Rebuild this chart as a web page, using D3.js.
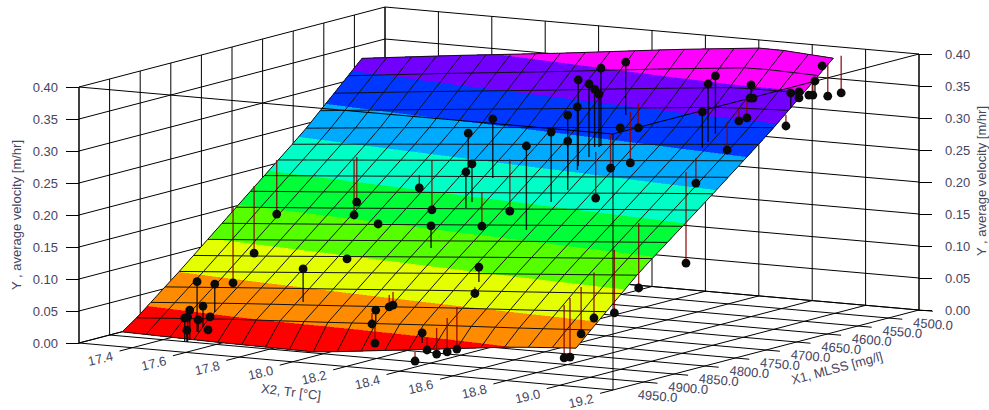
<!DOCTYPE html>
<html>
<head>
<meta charset="utf-8">
<script src="https://cdn.jsdelivr.net/npm/d3@7"></script>
<style>
    html, body { margin: 0; padding: 0; background: #fff; }
    text { font-family: "Liberation Sans", Arial, sans-serif; font-size: 13px; fill: #45455f; }
</style>
</head>
<body>
<div id="chart"></div>
<script>
const tickT = [17.4, 17.6, 17.8, 18.0, 18.2, 18.4, 18.6, 18.8, 19.0, 19.2];
const tickM = [4500, 4550, 4600, 4650, 4700, 4750, 4800, 4850, 4900, 4950];
const tickY = [0, 0.05, 0.10, 0.15, 0.20, 0.25, 0.30, 0.35, 0.40];
const wallT = [17.2].concat(tickT);
const wallM = tickM.concat([5000]);

// colour bands of the fitted surface
const bandLevels = [-1, 0.04, 0.08, 0.12, 0.16, 0.20, 0.24, 0.28, 0.32, 0.36, 1];
const bandColors = ["#ff0000", "#ff8c00", "#e3ff00", "#55ff00", "#00ff38", "#00ffc6", "#00aaff", "#0038ff", "#7100ff", "#ff00ff"];

// fitted surface, read at a few rows and columns
const surfM = [4960, 4944, 4860, 4758, 4656, 4555];
const surfTLow = [17.27, 17.27, 17.265, 17.26, 17.25, 17.24];
const surfTHigh = [18.97, 18.97, 18.98, 18.99, 19.0, 19.005];
const surfFrac = [0, 0.194, 0.429, 0.665, 0.86, 1];
const surfY0 = [0.010, 0.007, 0.005, 0.024, 0.040, 0.047];
const surfY1 = [0.020, 0.030, 0.039, 0.049, 0.056, 0.062];
const surfY2 = [0.084, 0.095, 0.109, 0.123, 0.134, 0.142];
const surfY3 = [0.166, 0.177, 0.191, 0.205, 0.217, 0.225];
const surfY4 = [0.245, 0.258, 0.273, 0.288, 0.301, 0.310];
const surfY5 = [0.335, 0.352, 0.371, 0.392, 0.407, 0.400];
const meshCols = 19, meshRows = 17;

// measured runs: x2, x1, y and the fitted y under each one
const pointT = [18.427, 18.435, 18.412, 18.425, 18.427, 18.416, 18.428, 18.407, 18.43, 18.432, 18.431, 18.14, 18.016, 18.14, 18.138, 17.858, 17.571, 17.57, 17.857, 18.145, 18.142, 18.138, 17.871, 18.434, 18.433, 18.433, 18.43, 18.436, 18.986, 19.051, 18.83, 18.831, 18.842, 18.818, 18.818, 18.815, 18.819, 18.821, 18.823, 19.018, 19.013, 18.998, 18.998, 19.028, 19.011, 19.005, 19.03, 18.825, 18.827, 18.824, 18.82, 18.817, 18.817, 18.813, 18.812, 18.425, 18.426, 18.412, 18.14, 18.135, 18.174, 18.171, 18.13, 18.414, 18.418, 18.423, 18.425, 18.415, 17.86, 17.546, 17.548, 17.275, 17.285, 17.285, 17.84, 17.546, 17.552, 17.558, 17.55, 17.534, 17.545, 17.587, 17.542];
const pointM = [4642, 4686, 4713, 4720, 4702, 4688, 4686, 4728, 4738, 4766, 4806, 4734, 4720, 4768, 4777, 4731, 4708, 4712, 4710, 4754, 4707, 4834, 4804, 4654, 4624, 4637, 4668, 4695, 4565, 4605, 4613, 4615, 4615, 4666, 4678, 4686, 4615, 4629, 4649, 4638, 4628, 4608, 4608, 4605, 4591, 4564, 4553, 4701, 4718, 4794, 4832, 4864, 4885, 4911, 4901, 4881, 4888, 4968, 4897, 4901, 4940, 4940, 4927, 4961, 4947, 4932, 4917, 4981, 4850, 4958, 4930, 4781, 4751, 4714, 4913, 4970, 4951, 4942, 4958, 4973, 4973, 4958, 4973];
const pointY = [0.3945, 0.3964, 0.3838, 0.3438, 0.3753, 0.3634, 0.3556, 0.3325, 0.2952, 0.3164, 0.3045, 0.318, 0.288, 0.2563, 0.2459, 0.1992, 0.1608, 0.1416, 0.1595, 0.1559, 0.1673, 0.1758, 0.1616, 0.2948, 0.2873, 0.2359, 0.2355, 0.1956, 0.3897, 0.3786, 0.3663, 0.3464, 0.3467, 0.3933, 0.3836, 0.3419, 0.3148, 0.3137, 0.2734, 0.3153, 0.3642, 0.3603, 0.3509, 0.3558, 0.3517, 0.343, 0.3462, 0.2348, 0.1142, 0.0941, 0.0645, 0.0644, 0.0448, 0.0136, 0.0125, 0.1339, 0.0944, 0.0522, 0.0681, 0.0659, 0.0722, 0.0206, 0.0456, 0.0239, 0.0142, 0.0139, 0.0148, 0.0117, 0.1181, 0.098, 0.0874, 0.0419, 0.0813, 0.1331, 0.1175, 0.0567, 0.0584, 0.0394, 0.0384, 0.0444, 0.0464, 0.0241, 0.0259];
const pointFit = [0.3117, 0.2745, 0.2494, 0.2453, 0.2613, 0.2728, 0.2728, 0.2388, 0.2186, 0.207, 0.1733, 0.2258, 0.2334, 0.1969, 0.1897, 0.2195, 0.2311, 0.2275, 0.2377, 0.2091, 0.2486, 0.1414, 0.1584, 0.3011, 0.3264, 0.3156, 0.2902, 0.2675, 0.3928, 0.3614, 0.3474, 0.3464, 0.3467, 0.3027, 0.293, 0.2856, 0.3461, 0.3341, 0.3172, 0.3325, 0.3408, 0.3572, 0.3572, 0.3605, 0.372, 0.3945, 0.4041, 0.2739, 0.2564, 0.1956, 0.163, 0.1356, 0.1183, 0.0964, 0.1047, 0.1105, 0.1041, 0.0366, 0.0884, 0.0847, 0.0534, 0.0534, 0.0628, 0.0427, 0.0548, 0.067, 0.0805, 0.0258, 0.1197, 0.0195, 0.0436, 0.1606, 0.1861, 0.2175, 0.0659, 0.0098, 0.0256, 0.0331, 0.0197, 0.0069, 0.0073, 0.0209, 0.0072];

const width = 989, height = 410;
const originX = 79, originY = 343;

// oblique projection of the box, one scale per screen direction
const tToX = d3.scaleLinear().domain([17.2, 19.2]).range([0, 534]);
const tToY = d3.scaleLinear().domain([17.2, 19.2]).range([0, 47]);
const mToX = d3.scaleLinear().domain([5000, 4500]).range([0, 306]);
const mToY = d3.scaleLinear().domain([5000, 4500]).range([0, -80]);
const yToY = d3.scaleLinear().domain([0, 0.4]).range([0, -256]);

function project(t, m, y) {
    return [originX + tToX(t) + mToX(m), originY + tToY(t) + mToY(m) + yToY(y)];
}

const svg = d3.select("#chart").append("svg")
    .attr("width", width)
    .attr("height", height)
    .style("display", "block");

function line3d(g, a, b, color) {
    const p = project(a[0], a[1], a[2]), q = project(b[0], b[1], b[2]);
    g.append("line")
        .attr("x1", p[0]).attr("y1", p[1])
        .attr("x2", q[0]).attr("y2", q[1])
        .attr("stroke", color || "#000")
        .attr("stroke-width", 1);
}

// back walls and floor
const walls = svg.append("g");
tickY.forEach(y => {
    line3d(walls, [17.2, 5000, y], [17.2, 4500, y]);
    line3d(walls, [17.2, 4500, y], [19.2, 4500, y]);
});
wallM.forEach(m => line3d(walls, [17.2, m, 0], [17.2, m, 0.4]));
wallT.forEach(t => line3d(walls, [t, 4500, 0], [t, 4500, 0.4]));
wallT.forEach(t => line3d(walls, [t, tickT.includes(t) ? 5021 : 5000, 0], [t, 4500, 0]));
wallM.forEach(m => line3d(walls, [17.2, m, 0], [m === 5000 ? 19.2 : 19.252, m, 0]));

// y axes on both sides
const yLeft = d3.scaleLinear().domain([0, 0.4]).range([originY, originY - 256]);
const yRight = d3.scaleLinear().domain([0, 0.4]).range([310, 54]);
svg.append("g")
    .attr("transform", "translate(79,0)")
    .call(d3.axisLeft(yLeft).tickValues(tickY).tickFormat(d3.format(".2f")).tickSize(13).tickPadding(8))
    .call(g => g.select(".domain").remove())
    .call(g => g.selectAll("text").style("font-size", "13px").attr("fill", null));
svg.append("g")
    .attr("transform", "translate(919,0)")
    .call(d3.axisRight(yRight).tickValues(tickY).tickFormat(d3.format(".2f")).tickSize(13).tickPadding(13))
    .call(g => g.select(".domain").remove())
    .call(g => g.selectAll("text").style("font-size", "13px").attr("fill", null));

// surface nodes
function surfaceNode(s, m) {
    const low = d3.scaleLinear().domain(surfM).range(surfTLow)(m);
    const high = d3.scaleLinear().domain(surfM).range(surfTHigh)(m);
    const rows = [surfY0, surfY1, surfY2, surfY3, surfY4, surfY5];
    const along = surfFrac.map((f, c) => d3.scaleLinear().domain(surfM).range(rows.map(r => r[c]))(m));
    const value = d3.scaleLinear().domain(surfFrac).range(along)(s);
    const p = project(low + (high - low) * s, m, value);
    return { x: p[0], y: p[1], v: value };
}

const meshS = d3.range(meshCols + 1).map(i => i / meshCols);
const meshM = d3.range(meshRows + 1).map(i => surfM[0] + (surfM[surfM.length - 1] - surfM[0]) * i / meshRows);
const nodes = meshM.map(m => meshS.map(s => surfaceNode(s, m)));

// keep the part of a polygon on one side of a level
function clipLevel(poly, level, keepAbove) {
    const out = [];
    poly.forEach((a, i) => {
        const b = poly[(i + 1) % poly.length];
        const aIn = keepAbove ? a.v >= level : a.v <= level;
        const bIn = keepAbove ? b.v >= level : b.v <= level;
        if (aIn) out.push(a);
        if (aIn !== bIn) {
            const f = (level - a.v) / (b.v - a.v);
            out.push({ x: a.x + (b.x - a.x) * f, y: a.y + (b.y - a.y) * f, v: level });
        }
    });
    return out;
}

const polyPath = d3.line().x(d => d.x).y(d => d.y);
const bands = svg.append("g").attr("shape-rendering", "crispEdges");
for (let r = 0; r < meshRows; r++) {
    for (let c = 0; c < meshCols; c++) {
        const quad = [nodes[r][c], nodes[r][c + 1], nodes[r + 1][c + 1], nodes[r + 1][c]];
        bandColors.forEach((color, b) => {
            let part = clipLevel(quad, bandLevels[b], true);
            if (part.length) part = clipLevel(part, bandLevels[b + 1], false);
            if (part.length > 2) {
                bands.append("path")
                    .attr("d", polyPath(part) + "Z")
                    .attr("fill", color)
                    .attr("stroke", color)
                    .attr("stroke-width", 0.6);
            }
        });
    }
}

// mesh lines
const mesh = svg.append("g").attr("fill", "none").attr("stroke", "#111").attr("stroke-width", 1);
nodes.forEach(row => mesh.append("path").attr("d", polyPath(row)));
meshS.forEach((s, c) => mesh.append("path").attr("d", polyPath(nodes.map(row => row[c]))));

// front of the box sits over the surface
const front = svg.append("g");
line3d(front, [17.2, 5000, 0.4], [19.2, 5000, 0.4]);
line3d(front, [19.2, 5000, 0.4], [19.2, 4500, 0.4]);
line3d(front, [19.2, 5000, 0], [19.2, 5000, 0.4]);
line3d(front, [19.2, 4500, 0], [19.2, 4500, 0.4]);
line3d(front, [17.2, 5000, 0], [17.2, 5000, 0.4]);

// stems to the surface, red where the run lies under it
const stems = svg.append("g");
pointY.forEach((y, i) => {
    const p = project(pointT[i], pointM[i], y);
    const q = project(pointT[i], pointM[i], pointFit[i]);
    stems.append("line")
        .attr("x1", p[0]).attr("y1", p[1])
        .attr("x2", q[0]).attr("y2", q[1])
        .attr("stroke", y < pointFit[i] ? "#8b0000" : "#000")
        .attr("stroke-opacity", 0.85)
        .attr("stroke-width", 1.4);
});
svg.append("g").selectAll("circle")
    .data(pointY)
    .enter()
    .append("circle")
    .attr("cx", (d, i) => project(pointT[i], pointM[i], d)[0])
    .attr("cy", (d, i) => project(pointT[i], pointM[i], d)[1])
    .attr("r", 4.4)
    .attr("fill", "#0a0a0a");

// floor tick labels
svg.append("g").selectAll("text")
    .data(tickT)
    .enter()
    .append("text")
    .attr("text-anchor", "middle")
    .attr("dominant-baseline", "central")
    .attr("transform", d => {
        const p = project(d, 5000, 0);
        return "translate(" + (p[0] - 32) + "," + (p[1] + 11) + ")rotate(-13)";
    })
    .text(d => d.toFixed(1));
svg.append("g").selectAll("text")
    .data(tickM)
    .enter()
    .append("text")
    .attr("text-anchor", "middle")
    .attr("dominant-baseline", "central")
    .attr("transform", d => {
        const p = project(19.2, d, 0);
        return "translate(" + (p[0] + 14) + "," + (p[1] + 14) + ")rotate(5)";
    })
    .text(d => d.toFixed(1));

// axis titles
function title(x, y, angle, label) {
    svg.append("text")
        .attr("text-anchor", "middle")
        .attr("dominant-baseline", "central")
        .attr("transform", "translate(" + x + "," + y + ")rotate(" + angle + ")")
        .text(label);
}
title(16, 215, -90, "Y , average velocity [m/hr]");
title(981, 181, -90, "Y , average velocity [m/hr]");
title(291, 392, 7, "X2, Tr [°C]");
title(837, 368, -15, "X1, MLSS [mg/l]");
</script>
</body>
</html>
